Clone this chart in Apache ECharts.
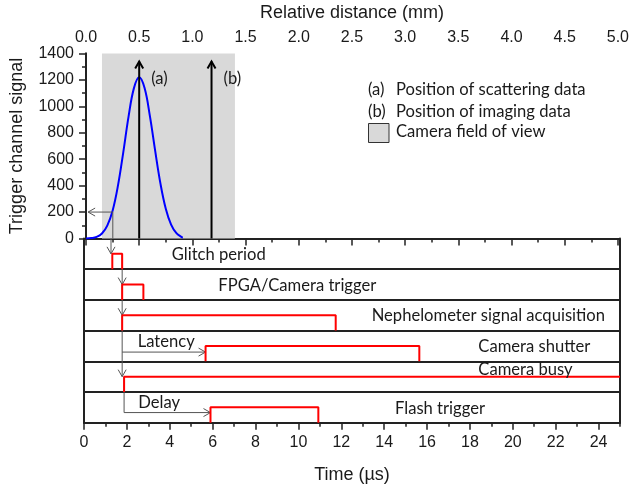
<!DOCTYPE html>
<html>
<head>
<meta charset="utf-8">
<script src="https://cdn.jsdelivr.net/npm/echarts@6/dist/echarts.min.js"></script>
<style>
  html, body { margin: 0; padding: 0; background: #fff; }
  #chart { width: 632px; height: 485px; }
</style>
</head>
<body>
<div id="chart"></div>
<script>
// ---- Trigger channel signal (time in µs, signal in counts) ----
const signalTime  = [0, 0.25, 0.5, 0.75, 1.0, 1.25, 1.5, 1.75, 2.0, 2.25, 2.5, 2.75, 3.0, 3.25, 3.5, 3.75, 4.0, 4.25, 4.5, 4.55];
const signalValue = [0, 3, 12, 38, 98, 210, 398, 650, 922, 1136, 1220, 1140, 930, 665, 415, 225, 105, 40, 10, 6];

// Camera field of view, in µs along the time axis
const fieldOfView = [0.75, 7.0];

// Data positions (a) scattering, (b) imaging
const markerTime  = [2.5, 5.9];
const markerName  = ['(a)', '(b)'];
const markerTop   = 1340;

// Trigger threshold crossing
const triggerLevel = 200;
const triggerTime  = 1.26;

// ---- Timing diagram rows (top to bottom) ----
const rowNames = ['Glitch period', 'FPGA/Camera trigger', 'Nephelometer signal acquisition',
                  'Camera shutter', 'Camera busy', 'Flash trigger'];
const riseTime = [1.32, 1.78, 1.78, 5.67, 1.87, 5.9];
const fallTime = [1.78, 2.77, 11.74, 15.64, null, 10.93];   // null: stays high

// Axis ranges and tick labels
const timeMax = 25;
const distanceMax = 5;
const signalMax = 1400;
const timeMajorTicks = [0, 2, 4, 6, 8, 10, 12, 14, 16, 18, 20, 22, 24];
const timeMinorTicks = [1, 3, 5, 7, 9, 11, 13, 15, 17, 19, 21, 23, 25];

// ---- derived geometry helpers ----
const nRows = rowNames.length;
const rowBase = k => nRows - 1 - k;       // baseline of row k
const rowHigh = k => rowBase(k) + 0.5;    // high level of row k
const latencyLevel = rowBase(3) + 0.3;
const delayLevel = rowBase(5) + 0.33;

const AX = '#222';
const TXT = '#1a1a1a';
const ARIAL = '"Liberation Sans", Arial, sans-serif';
const NOTE = 'Lato, "Open Sans", sans-serif';
const NOTE_FONT = '16.6px ' + NOTE;
const TICK_SIZE = 16;

// pulse polyline for row k
function pulse(k) {
  const pts = [[riseTime[k], rowBase(k)], [riseTime[k], rowHigh(k)]];
  if (fallTime[k] == null) {
    pts.push([timeMax, rowHigh(k)]);
  } else {
    pts.push([fallTime[k], rowHigh(k)], [fallTime[k], rowBase(k)]);
  }
  return pts;
}

// arrows in the signal panel
const topGrayPaths = [
  { pts: [[triggerTime, triggerLevel], [0.1, triggerLevel]], head: true },
  { pts: [[triggerTime, triggerLevel], [triggerTime, 0]], head: false }
];
const markerPaths = markerTime.map(t => ({ pts: [[t, 0], [t, markerTop]], head: true }));

// arrows in the timing panel
const lowGrayPaths = [
  { pts: [[triggerTime, nRows], [triggerTime, rowHigh(0)]], head: true },
  { pts: [[fallTime[0], rowHigh(0)], [fallTime[0], rowHigh(1)]], head: true },
  { pts: [[riseTime[1], rowHigh(1)], [riseTime[1], rowHigh(2)]], head: true },
  { pts: [[riseTime[2], rowHigh(2)], [riseTime[2], rowHigh(4)]], head: true },
  { pts: [[riseTime[1], latencyLevel], [riseTime[3], latencyLevel]], head: true },
  { pts: [[riseTime[4], rowHigh(4)], [riseTime[4], delayLevel], [riseTime[5], delayLevel]], head: true }
];

function arrowSeries(paths, color, width, xi, yi, labels) {
  return {
    type: 'custom',
    xAxisIndex: xi,
    yAxisIndex: yi,
    silent: true,
    z: 5,
    data: paths.map(p => p.pts[p.pts.length - 1]),
    renderItem: function (params, api) {
      const path = paths[params.dataIndex];
      const pts = path.pts.map(p => api.coord(p));
      const children = [{
        type: 'polyline',
        shape: { points: pts },
        style: { stroke: color, lineWidth: width, fill: null }
      }];
      if (path.head) {
        const n = pts.length;
        const [x1, y1] = pts[n - 2];
        const [x2, y2] = pts[n - 1];
        const a = Math.atan2(y2 - y1, x2 - x1);
        const L = 7, W = 4;
        const bx = x2 - L * Math.cos(a), by = y2 - L * Math.sin(a);
        const nx = -Math.sin(a), ny = Math.cos(a);
        children.push({
          type: 'polyline',
          shape: { points: [[bx + W * nx, by + W * ny], [x2, y2], [bx - W * nx, by - W * ny]] },
          style: { stroke: color, lineWidth: width, fill: null }
        });
      }
      if (labels) {
        const p = api.coord([path.pts[0][0], 1215]);
        children.push({
          type: 'text',
          x: p[0] + 12, y: p[1] + 1,
          style: { text: labels[params.dataIndex], font: NOTE_FONT, fill: TXT, verticalAlign: 'middle' }
        });
      }
      return { type: 'group', children };
    }
  };
}

function note(x, y, s) {
  return { type: 'text', x: x, y: y, z: 20,
    style: { text: s, font: NOTE_FONT, fill: TXT, verticalAlign: 'middle', align: 'left' } };
}

const gridLeft = 84, gridRight = 12, topPanelTop = 53.5, topPanelH = 185, lowPanelH = 184.2;

const option = {
  animation: false,
  backgroundColor: '#fff',
  grid: [
    { left: gridLeft, right: gridRight, top: topPanelTop, height: topPanelH },
    { left: gridLeft, right: gridRight, top: topPanelTop + topPanelH, height: lowPanelH },
    { left: gridLeft, right: gridRight, top: topPanelTop + topPanelH, height: lowPanelH }
  ],
  xAxis: [
    { // distance (top)
      gridIndex: 0, type: 'value', position: 'top', min: 0, max: distanceMax, interval: 0.5,
      name: 'Relative distance (mm)', nameLocation: 'middle', nameGap: 31,
      nameTextStyle: { fontFamily: ARIAL, fontSize: 18, color: TXT },
      axisLine: { show: true, lineStyle: { color: AX, width: 2 } },
      axisTick: { show: true, inside: true, length: 7, lineStyle: { color: AX, width: 1.5 } },
      minorTick: { show: true, splitNumber: 2, length: 4, lineStyle: { color: AX, width: 1.5 } },
      axisLabel: { fontFamily: ARIAL, fontSize: TICK_SIZE, color: TXT, margin: 8, formatter: v => v.toFixed(1) },
      splitLine: { show: false }
    },
    { // time, signal panel (hidden scale, bottom border)
      gridIndex: 0, type: 'value', position: 'bottom', min: 0, max: timeMax,
      axisLine: { show: true, lineStyle: { color: AX, width: 2 } },
      axisTick: { show: false }, axisLabel: { show: false }, splitLine: { show: false }
    },
    { // time axis (bottom)
      gridIndex: 1, type: 'value', position: 'bottom', min: 0, max: timeMax, interval: 2,
      name: 'Time (µs)', nameLocation: 'middle', nameGap: 43,
      nameTextStyle: { fontFamily: ARIAL, fontSize: 18, color: TXT },
      axisLine: { show: true, lineStyle: { color: AX, width: 2 } },
      axisTick: { show: true, length: 7, customValues: timeMajorTicks, lineStyle: { color: AX, width: 1.5 } },
      axisLabel: { fontFamily: ARIAL, fontSize: TICK_SIZE, color: TXT, margin: 12, customValues: timeMajorTicks },
      splitLine: { show: false }
    },
    { // time axis minor ticks
      gridIndex: 2, type: 'value', position: 'bottom', min: 0, max: timeMax,
      axisLine: { show: false },
      axisTick: { show: true, length: 4, customValues: timeMinorTicks, lineStyle: { color: AX, width: 1.5 } },
      axisLabel: { show: false }, splitLine: { show: false }
    }
  ],
  yAxis: [
    {
      gridIndex: 0, type: 'value', position: 'left', min: 0, max: signalMax, interval: 200,
      name: 'Trigger channel signal', nameLocation: 'middle', nameGap: 60,
      nameTextStyle: { fontFamily: ARIAL, fontSize: 18, color: TXT },
      axisLine: { show: true, lineStyle: { color: AX, width: 2 } },
      axisTick: { show: true, length: 7, lineStyle: { color: AX, width: 1.5 } },
      minorTick: { show: true, splitNumber: 2, length: 4, lineStyle: { color: AX, width: 1.5 } },
      axisLabel: { fontFamily: ARIAL, fontSize: TICK_SIZE, color: TXT, margin: 12, formatter: v => String(v) },
      splitLine: { show: false }
    },
    {
      gridIndex: 0, type: 'value', position: 'right', min: 0, max: signalMax, interval: 200,
      axisLine: { show: true, lineStyle: { color: AX, width: 2 } },
      axisTick: { show: true, inside: true, length: 6, lineStyle: { color: AX, width: 1.5 } },
      minorTick: { show: true, splitNumber: 2, length: 4, lineStyle: { color: AX, width: 1.5 } },
      axisLabel: { show: false }, splitLine: { show: false }
    },
    {
      gridIndex: 1, type: 'value', position: 'left', min: 0, max: nRows, interval: 1,
      axisLine: { show: true, lineStyle: { color: AX, width: 2 } },
      axisTick: { show: false }, axisLabel: { show: false },
      splitLine: { show: true, lineStyle: { color: AX, width: 2 } }
    },
    {
      gridIndex: 1, type: 'value', position: 'right', min: 0, max: nRows, interval: 1,
      axisLine: { show: true, lineStyle: { color: AX, width: 2 } },
      axisTick: { show: false }, axisLabel: { show: false }, splitLine: { show: false }
    },
    { gridIndex: 2, type: 'value', min: 0, max: nRows, show: false }
  ],
  series: [
    {
      name: 'Trigger channel signal',
      type: 'line',
      xAxisIndex: 1, yAxisIndex: 0,
      data: signalTime.map((t, i) => [t, signalValue[i]]),
      smooth: 0.4,
      showSymbol: false,
      lineStyle: { color: '#0000ff', width: 2 },
      z: 4,
      markArea: {
        silent: true,
        itemStyle: { color: '#d9d9d9', opacity: 1 },
        data: [[{ xAxis: fieldOfView[0] }, { xAxis: fieldOfView[1] }]]
      }
    },
    arrowSeries(topGrayPaths, '#555', 1, 1, 0),
    arrowSeries(markerPaths, '#000', 2, 1, 0, markerName),
    arrowSeries(lowGrayPaths, '#555', 1, 2, 2),
    ...rowNames.map((name, k) => ({
      name: name,
      type: 'line',
      xAxisIndex: 2, yAxisIndex: 2,
      data: pulse(k),
      showSymbol: false,
      lineStyle: { color: '#ff0000', width: 2 },
      z: 6
    }))
  ],
  graphic: [
    // legend
    { type: 'text', x: 368, y: 90, z: 20, style: { text: '(a)', font: NOTE_FONT, fill: TXT, verticalAlign: 'middle' } },
    note(396, 90, 'Position of scattering data'),
    { type: 'text', x: 368, y: 112, z: 20, style: { text: '(b)', font: NOTE_FONT, fill: TXT, verticalAlign: 'middle' } },
    note(396, 112, 'Position of imaging data'),
    { type: 'rect', z: 20, shape: { x: 368.5, y: 123.5, width: 20.5, height: 19 },
      style: { fill: '#d9d9d9', stroke: '#333', lineWidth: 1 } },
    note(396, 132, 'Camera field of view'),
    // row names
    note(171.7, 255, rowNames[0]),
    note(218.3, 286, rowNames[1]),
    note(371.7, 316, rowNames[2]),
    note(478.3, 346.5, rowNames[3]),
    note(478.3, 369.5, rowNames[4]),
    note(395, 408.5, rowNames[5]),
    note(137.7, 341.7, 'Latency'),
    note(138.3, 403, 'Delay')
  ]
};

const chart = echarts.init(document.getElementById('chart'), null, { renderer: 'canvas' });
chart.setOption(option);
</script>
</body>
</html>
